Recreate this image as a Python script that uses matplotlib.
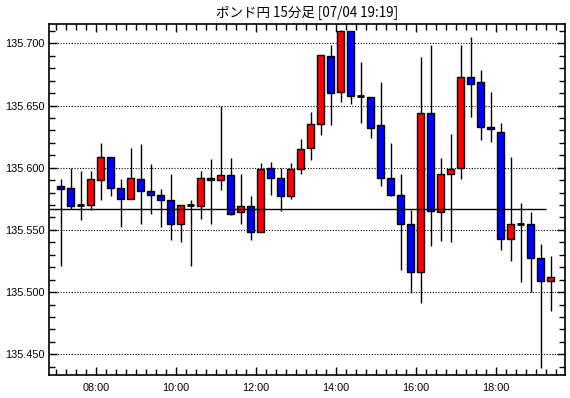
import matplotlib
matplotlib.use("Agg")
import matplotlib.pyplot as plt
from matplotlib.ticker import MultipleLocator, FuncFormatter
from matplotlib.patches import Rectangle

# ---- data: 15-minute candles, first candle starts at 07:00 ----
start_hour = 7.0
bar_hours = 0.25
opens = [135.585, 135.584, 135.570, 135.570, 135.590, 135.609, 135.584, 135.575, 135.591, 135.581,
         135.578, 135.574, 135.555, 135.570, 135.569, 135.592, 135.590, 135.594, 135.564, 135.569,
         135.548, 135.600, 135.592, 135.577, 135.599, 135.616, 135.635, 135.690, 135.661, 135.710,
         135.658, 135.657, 135.634, 135.592, 135.578, 135.555, 135.516, 135.644, 135.564, 135.595,
         135.600, 135.673, 135.669, 135.633, 135.629, 135.543, 135.555, 135.555, 135.527, 135.509]
highs = [135.591, 135.600, 135.597, 135.597, 135.620, 135.609, 135.591, 135.616, 135.619, 135.603,
         135.583, 135.595, 135.570, 135.574, 135.597, 135.607, 135.650, 135.608, 135.595, 135.577,
         135.604, 135.605, 135.600, 135.604, 135.623, 135.645, 135.691, 135.699, 135.711, 135.710,
         135.685, 135.657, 135.669, 135.620, 135.595, 135.566, 135.689, 135.699, 135.608, 135.627,
         135.699, 135.705, 135.679, 135.661, 135.636, 135.609, 135.572, 135.564, 135.539, 135.529]
lows = [135.521, 135.567, 135.558, 135.566, 135.574, 135.577, 135.552, 135.575, 135.555, 135.563,
        135.552, 135.542, 135.540, 135.521, 135.559, 135.555, 135.582, 135.562, 135.555, 135.542,
        135.548, 135.578, 135.565, 135.575, 135.595, 135.606, 135.626, 135.634, 135.653, 135.651,
        135.636, 135.624, 135.585, 135.577, 135.518, 135.499, 135.491, 135.537, 135.541, 135.540,
        135.591, 135.641, 135.622, 135.621, 135.534, 135.525, 135.508, 135.500, 135.439, 135.485]
closes = [135.583, 135.569, 135.570, 135.591, 135.609, 135.584, 135.575, 135.592, 135.581, 135.578,
          135.574, 135.555, 135.570, 135.570, 135.592, 135.590, 135.594, 135.563, 135.569, 135.548,
          135.599, 135.592, 135.577, 135.599, 135.615, 135.635, 135.691, 135.660, 135.710, 135.658,
          135.658, 135.632, 135.592, 135.578, 135.555, 135.516, 135.644, 135.565, 135.595, 135.599,
          135.673, 135.667, 135.633, 135.631, 135.543, 135.555, 135.555, 135.527, 135.509, 135.512]
ref_level = 135.567
ref_end_hour = 19.25
title = "ポンド円 15分足 [07/04 19:19]"

UP = "#FF0000"
DOWN = "#0000FF"

fig = plt.figure(figsize=(5.70, 3.98), dpi=100)
ax = fig.add_axes([49/570, (398-375)/398, 516/570, 351/398])

xmin, xmax = 6.8325, 19.7325
ymin, ymax = 135.4333, 135.7156
ax.set_xlim(xmin, xmax)
ax.set_ylim(ymin, ymax)

# gridlines
for v in [135.45, 135.50, 135.55, 135.60, 135.65, 135.70]:
    ax.axhline(v, color="black", lw=0.8, ls=(0, (1, 1.5)), zorder=1)

body_w = 0.175
for i, (o, h, l, c) in enumerate(zip(opens, highs, lows, closes)):
    xc = start_hour + bar_hours * i + bar_hours / 2
    ax.vlines(xc, l, h, color="black", lw=1.0, zorder=2)
    lo, hi = min(o, c), max(o, c)
    if hi - lo < 0.0005:
        ax.hlines(o, xc - body_w/2, xc + body_w/2, color="black", lw=2.0, zorder=3)
    else:
        col = UP if c > o else DOWN
        ax.add_patch(Rectangle((xc - body_w/2, lo), body_w, hi - lo,
                               facecolor=col, edgecolor="black", lw=1.0, zorder=3))

ax.hlines(ref_level, xmin, ref_end_hour, color="black", lw=1.0, zorder=4)

for s in ax.spines.values():
    s.set_linewidth(1.2)
    s.set_color("black")

ax.xaxis.set_major_locator(MultipleLocator(2))
ax.xaxis.set_minor_locator(MultipleLocator(0.25))
ax.yaxis.set_major_locator(MultipleLocator(0.05))
ax.yaxis.set_minor_locator(MultipleLocator(0.01))
ax.xaxis.set_major_formatter(FuncFormatter(lambda v, p: "%02d:00" % int(round(v))))
ax.yaxis.set_major_formatter(FuncFormatter(lambda v, p: "%.3f" % v))
ax.tick_params(which="both", direction="in", top=True, right=True, width=1.0, color="black")
ax.tick_params(which="major", length=6)
ax.tick_params(which="minor", length=4)
ax.tick_params(axis="x", which="major", pad=6)
ax.tick_params(axis="y", which="major", pad=3)
for lab in ax.get_xticklabels() + ax.get_yticklabels():
    lab.set_fontfamily("Liberation Sans")
    lab.set_fontsize(7.8)

fig.text(307/570, 1 - 12.5/398, title, ha="center", va="center",
         fontsize=9.7, family=["Noto Sans CJK JP", "DejaVu Sans"])

fig.savefig("out.png", dpi=100, facecolor="white")
